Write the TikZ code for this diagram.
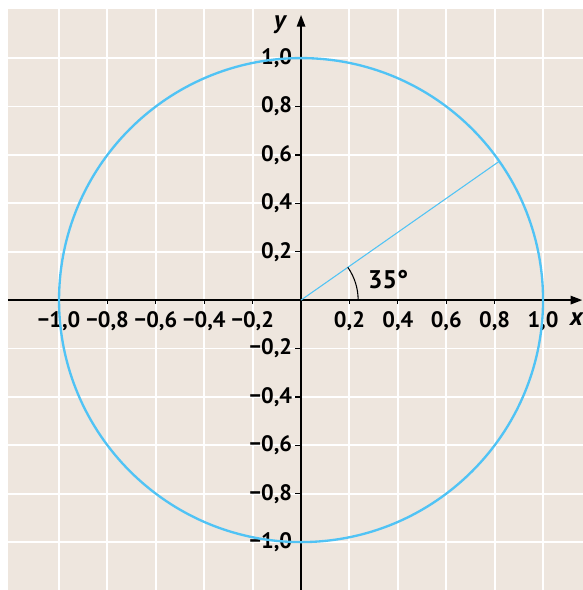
\documentclass[tikz,border=0pt]{standalone}
\usepackage{fontspec}
\setsansfont{PT Sans}
\usetikzlibrary{arrows.meta}
\definecolor{paper}{RGB}{238,230,222}
\definecolor{circ}{RGB}{80,195,245}

\begin{document}
\begin{tikzpicture}[x=4cm,y=4cm,
  lab/.style={font=\sffamily\bfseries\fontsize{10.5}{11}\selectfont, inner sep=0pt},
  axis/.style={line width=0.7pt, -{Triangle[length=5.5pt,width=4pt]}},
  gridline/.style={white, line width=0.9pt}]
  \useasboundingbox (-1.244,-1.198) rectangle (1.165,1.240);
  \fill[paper] (-1.211,-1.198) rectangle (1.165,1.202);
  \foreach \v in {-1,-0.8,-0.6,-0.4,-0.2,0.2,0.4,0.6,0.8,1} {
    \draw[gridline] (\v,-1.198) -- (\v,1.202);
    \draw[gridline] (-1.211,\v) -- (1.165,\v);
    \draw[line width=0.6pt] (\v,0) -- (\v,-0.017);
    \draw[line width=0.6pt] (0,\v) -- (-0.025,\v);
  }
  \foreach \n/\a/\b in {2/0/2,4/0/4,6/0/6,8/0/8,10/1/0} {
    \node[lab] (xp\n) at (\n/10,-0.087) {\a,\b};
    \node[lab] (xn\n) at (-\n/10,-0.087) {−\a,\b};
    \node[lab,anchor=east] (yp\n) at (-0.035,\n/10) {\a,\b};
    \node[lab,anchor=east] (yn\n) at (-0.035,-\n/10) {−\a,\b};
  }
  \coordinate (O) at (0,0);
  \coordinate (P) at (35:1);
  \draw[axis] (-1.211,0) -- (1.162,0);
  \draw[axis] (0,-1.198) -- (0,1.178);
  \node[font=\sffamily\bfseries\itshape\fontsize{12}{12}\selectfont, inner sep=0pt] (ylab) at (-0.087,1.136) {y};
  \node[font=\sffamily\bfseries\itshape\fontsize{12}{12}\selectfont, inner sep=0pt] (xlab) at (1.138,-0.08) {x};
  \draw[circ, line width=1.1pt] (O) circle (1);
  \draw[circ, line width=0.5pt] (O) -- (P);
  \draw[line width=0.5pt] (0.236,0) arc (0:35:0.236);
  \node[lab, font=\sffamily\bfseries\fontsize{12}{12}\selectfont] (ang) at (0.36,0.083) {35°};
\end{tikzpicture}
\end{document}
